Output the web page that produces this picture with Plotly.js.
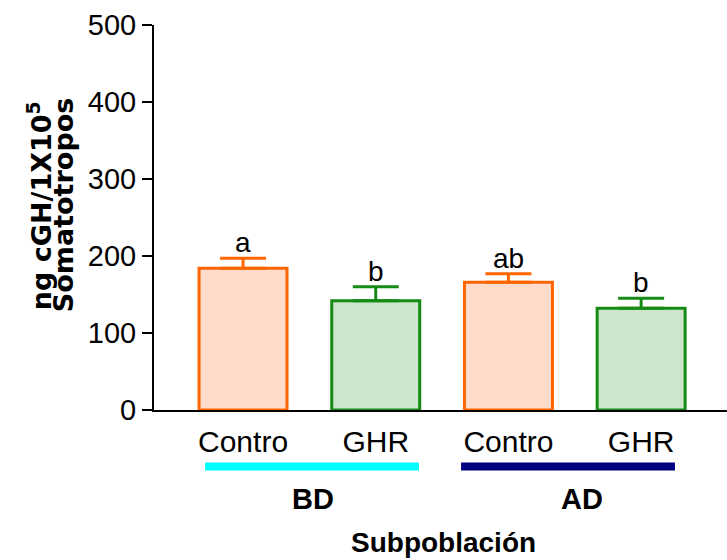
<!DOCTYPE html>
<html>
<head>
<meta charset="utf-8">
<script src="https://cdn.plot.ly/plotly-3.0.1.min.js"></script>
<style>
  html, body { margin: 0; padding: 0; background: #fff; }
  #chart { width: 727px; height: 560px; }
</style>
</head>
<body>
<div id="chart"></div>
<script>
// Subpopulations and treatments
const groups = ['BD', 'AD'];
const treatments = ['Contro', 'GHR'];

// Mean GH content (ng cGH / 1x10^5 somatotropes) and SEM
const controlMean = [184, 166];
const controlErr = [13, 11];
const ghrMean = [142, 132];
const ghrErr = [18, 13];

// Significance letters above each bar
const controlLetters = ['a', 'ab'];
const ghrLetters = ['b', 'b'];

// Bar positions: two bars per subpopulation
const controlX = groups.map((g, i) => i * 2);
const ghrX = groups.map((g, i) => i * 2 + 1);
const tickVals = [];
const tickText = [];
groups.forEach((g, i) => {
  treatments.forEach((t, j) => { tickVals.push(i * 2 + j); tickText.push(t); });
});

const barWidth = 0.663;
const orange = '#FF6600';
const green = '#158A15';

const traces = [
  {
    type: 'bar', x: controlX, y: controlMean, width: barWidth,
    marker: { color: '#FFDBCC', line: { color: orange, width: 3 } },
    error_y: { type: 'data', array: controlErr, symmetric: false, arrayminus: controlErr.map(() => 0),
               color: orange, thickness: 3, width: 23 },
    hoverinfo: 'skip'
  },
  {
    type: 'bar', x: ghrX, y: ghrMean, width: barWidth,
    marker: { color: '#CDE5CD', line: { color: green, width: 3 } },
    error_y: { type: 'data', array: ghrErr, symmetric: false, arrayminus: ghrErr.map(() => 0),
               color: green, thickness: 3, width: 23 },
    hoverinfo: 'skip'
  }
];

const annotations = [];
const letterFont = { family: 'Liberation Sans, Arial, sans-serif', size: 28, color: '#000' };
controlX.forEach((x, i) => annotations.push({
  x: x, y: controlMean[i] + controlErr[i], xref: 'x', yref: 'y', text: controlLetters[i],
  showarrow: false, yanchor: 'bottom', yshift: -2, font: letterFont
}));
ghrX.forEach((x, i) => annotations.push({
  x: x, y: ghrMean[i] + ghrErr[i], xref: 'x', yref: 'y', text: ghrLetters[i],
  showarrow: false, yanchor: 'bottom', yshift: -2, font: letterFont
}));

// Subpopulation underline bars and labels (offsets relative to each pair)
const groupColors = ['#00FFFF', '#000080'];
const underlineSpan = [[-0.286, 1.326], [-0.357, 1.255]];
const labelOffset = [0.527, 0.555];
const shapes = groups.map((g, i) => ({
  type: 'line', xref: 'x', yref: 'paper',
  x0: i * 2 + underlineSpan[i][0], x1: i * 2 + underlineSpan[i][1], y0: -0.147, y1: -0.147,
  line: { color: groupColors[i], width: 8 }
}));
const boldFont = { family: 'Liberation Sans, Arial, sans-serif', size: 29, color: '#000', weight: 'bold' };
groups.forEach((g, i) => annotations.push({
  x: i * 2 + labelOffset[i], y: -0.232, xref: 'x', yref: 'paper', text: g, showarrow: false,
  yanchor: 'middle', font: boldFont
}));
annotations.push({
  x: 1.507, y: -0.345, xref: 'x', yref: 'paper', text: 'Subpoblación', showarrow: false,
  yanchor: 'middle', font: { family: 'Liberation Sans, Arial, sans-serif', size: 28, color: '#000', weight: 'bold' }
});

// Y-axis title, two rotated lines
const yTitleFont = { family: 'DejaVu Sans, sans-serif', size: 27, color: '#000', weight: 'bold' };
annotations.push({
  x: -0.2007, y: 0.532, xref: 'paper', yref: 'paper', text: 'ng cGH/1X10<sup>5</sup>',
  textangle: -90, showarrow: false, xanchor: 'center', yanchor: 'middle', font: yTitleFont
});
annotations.push({
  x: -0.1588, y: 0.532, xref: 'paper', yref: 'paper', text: 'Somatotropos',
  textangle: -90, showarrow: false, xanchor: 'center', yanchor: 'middle', font: yTitleFont
});

const layout = {
  width: 727, height: 560,
  margin: { l: 154, r: 0, t: 25, b: 150 },
  paper_bgcolor: '#fff', plot_bgcolor: '#fff',
  showlegend: false,
  barmode: 'overlay',
  xaxis: {
    range: [-0.671, 3.647], tickvals: tickVals, ticktext: tickText,
    showline: true, linecolor: '#000', linewidth: 2,
    ticks: 'outside', ticklen: 4, tickcolor: 'rgba(0,0,0,0)',
    showgrid: false, zeroline: false,
    tickfont: { family: 'Liberation Sans, Arial, sans-serif', size: 30, color: '#000' },
    fixedrange: true
  },
  yaxis: {
    range: [0, 500], dtick: 100, tick0: 0,
    showline: true, linecolor: '#000', linewidth: 2,
    ticks: 'outside', ticklen: 10, tickwidth: 2, tickcolor: '#000',
    showgrid: false, zeroline: false,
    tickfont: { family: 'Liberation Sans, Arial, sans-serif', size: 29, color: '#000' },
    fixedrange: true
  },
  shapes: shapes,
  annotations: annotations
};

Plotly.newPlot('chart', traces, layout, { displayModeBar: false, staticPlot: true });
</script>
</body>
</html>
